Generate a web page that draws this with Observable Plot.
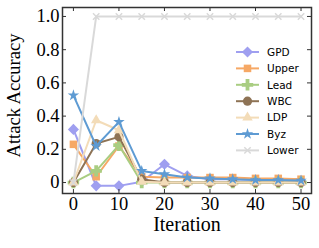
<!DOCTYPE html>
<html><head><meta charset="utf-8">
<script src="https://cdn.jsdelivr.net/npm/d3@7"></script>
<script src="https://cdn.jsdelivr.net/npm/@observablehq/plot@0.6"></script>
<style>body{margin:0;background:#fff}#c{position:relative;width:319px;height:248px}#c svg{position:absolute;left:0;top:0}</style>
</head><body><div id="c"></div>
<script>
const iterations = [0,5,10,15,20,25,30,35,40,45,50];
const seriesNames = ["GPD","Upper","Lead","WBC","LDP","Byz","Lower"];
const gpd   = [0.32,-0.02,-0.02,0.005,0.11,0.04,0.02,0.02,0.015,0.015,0.01];
const upper = [0.23,0.035,0.22,0.035,0.03,0.03,0.03,0.03,0.025,0.025,0.02];
const lead  = [0,0.07,0.225,0,0,0,0,0,0,0,0];
const wbc   = [0,0.235,0.275,0.02,0,0,0,0,0,0,0];
const ldp   = [0,0.375,0.315,0.005,0,0,0,0,0,0,0];
const byz   = [0.525,0.22,0.365,0.07,0.05,0.03,0.025,0.02,0.015,0.015,0.012];
const lower = [0,1,1,1,1,1,1,1,1,1,1];
const xTicks = [0,10,20,30,40,50];
const yTicks = [0,0.2,0.4,0.6,0.8,1.0];

const colors = ["#9f9ff0","#f6a865","#a9cd82","#8e7355","#f3dcb8","#5e9bd3","#d9d9d9"];
const symbols = ["diamond2","square2","cross","circle","triangle2","star","times"];
const radii = [5,4.8,4.8,4.6,5,3.6,3];
const values = [gpd,upper,lead,wbc,ldp,byz,lower];

const rows = [];
seriesNames.forEach((s,i)=>values[i].forEach((v,j)=>rows.push({series:s, x:iterations[j], y:v})));

const W=319,H=248,mL=62,mR=8,mT=7,mB=55;
const innerH=H-mT-mB, innerW=W-mL-mR, tl=4;

const marks = [];
seriesNames.forEach((s,i)=>{
  const d = rows.filter(r=>r.series===s);
  marks.push(Plot.line(d,{x:"x",y:"y",stroke:colors[i],strokeWidth:2}));
  if (symbols[i]==="times")
    marks.push(Plot.dot(d,{x:"x",y:"y",symbol:"times",stroke:colors[i],strokeWidth:1.5,r:radii[i]}));
  else
    marks.push(Plot.dot(d,{x:"x",y:"y",symbol:symbols[i],fill:colors[i],stroke:"none",r:radii[i]}));
});

const chart = Plot.plot({
  width:W,height:H,marginLeft:mL,marginRight:mR,marginTop:mT,marginBottom:mB,
  style:{fontFamily:"Liberation Serif",fontSize:"18.5px",background:"white",color:"#000"},
  x:{domain:[-2.4,52.3]},
  y:{domain:[-0.066,1.054]},
  marks:[
    ...marks,
    Plot.ruleX(xTicks,{x:d=>d,insetTop:innerH-tl,stroke:"#333",strokeWidth:1}),
    Plot.ruleX(xTicks,{x:d=>d,insetBottom:innerH-tl,stroke:"#333",strokeWidth:1}),
    Plot.ruleY(yTicks,{y:d=>d,insetRight:innerW-tl,stroke:"#333",strokeWidth:1}),
    Plot.ruleY(yTicks,{y:d=>d,insetLeft:innerW-tl,stroke:"#333",strokeWidth:1}),
    Plot.frame({stroke:"#333",strokeWidth:1.5}),
    Plot.axisX(xTicks,{tickSize:0,tickPadding:3,label:null,fontSize:18.5}),
    Plot.axisY(yTicks,{tickSize:0,tickPadding:3,label:null,fontSize:18.5,tickFormat:d=>d===0?"0":d.toFixed(1)}),
    Plot.text(["Attack Accuracy"],{frameAnchor:"left",dx:-48,dy:-5,rotate:-90,fontSize:18.5,textAnchor:"middle"}),
    Plot.text(["Iteration"],{frameAnchor:"bottom",dy:37,fontSize:20,textAnchor:"middle"})
  ]
});
const c = document.getElementById("c");
c.appendChild(chart);

// legend overlay
const lg = d3.select(c).append("svg").attr("width",W).attr("height",H);
seriesNames.forEach((s,i)=>{
  const y = 52 + i*16.4;
  lg.append("line").attr("x1",236).attr("x2",259).attr("y1",y).attr("y2",y).attr("stroke",colors[i]).attr("stroke-width",2);
  const sym = {diamond2:d3.symbolDiamond2,square2:d3.symbolSquare2,cross:d3.symbolCross,circle:d3.symbolCircle,triangle2:d3.symbolTriangle2,star:d3.symbolStar,times:d3.symbolTimes}[symbols[i]];
  const r = radii[i];
  const p = lg.append("path").attr("transform",`translate(247.5,${y})`).attr("d",d3.symbol(sym, Math.PI*r*r)());
  if (symbols[i]==="times") p.attr("fill","none").attr("stroke",colors[i]).attr("stroke-width",1.5);
  else p.attr("fill",colors[i]);
  lg.append("text").attr("x",267).attr("y",y).attr("dy","0.36em").attr("font-family","DejaVu Sans").attr("font-size","10.5px").attr("fill","#000").text(s);
});
</script></body></html>
